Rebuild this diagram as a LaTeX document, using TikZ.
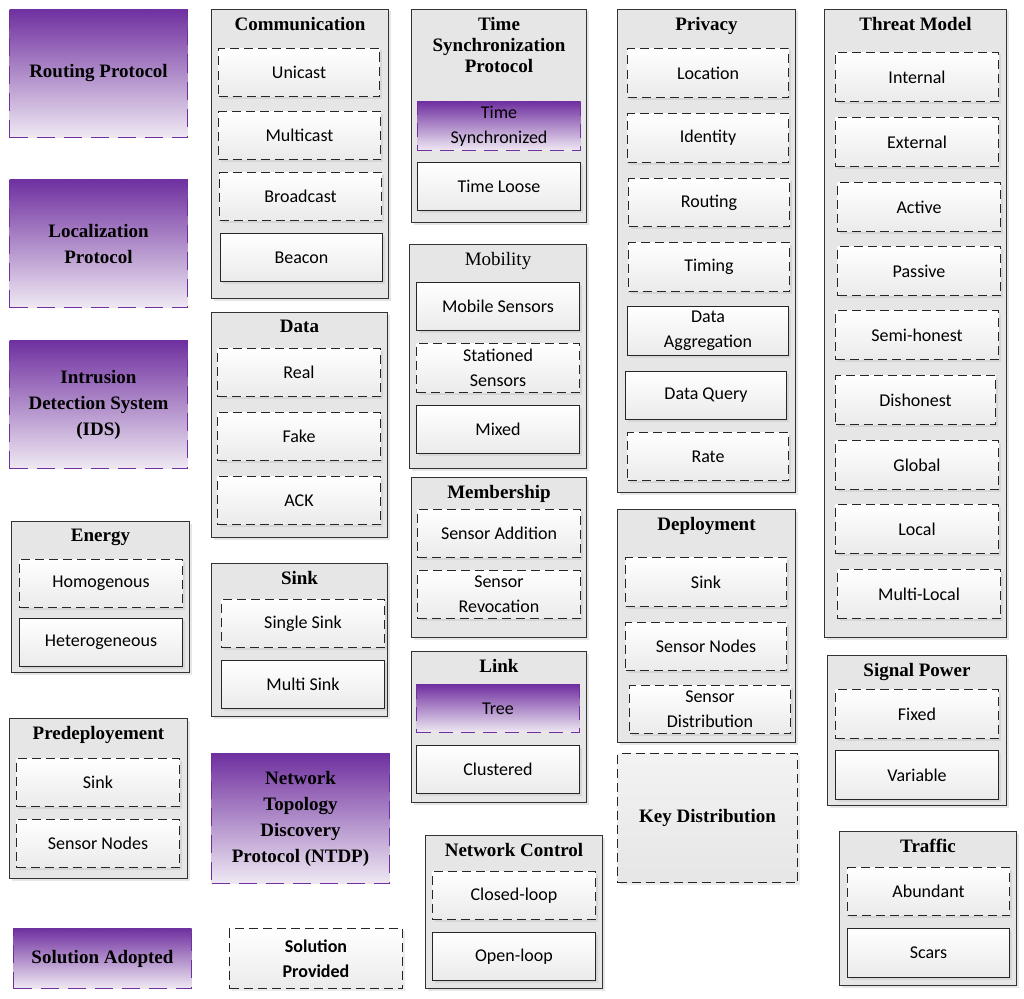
\documentclass[tikz,border=0pt]{standalone}
\usepackage{fontspec}
\setmainfont{Liberation Serif}
\newfontfamily\itemfont{Carlito}
\usetikzlibrary{positioning,shadows}

\definecolor{violetA}{HTML}{7030A0}
\definecolor{violetB}{HTML}{EFE9F3}
\definecolor{grpgray}{HTML}{E6E6E6}

% box from top-left (x1,y1) to bottom-right (x2,y2), pixel units
\newcommand{\bx}[7]{%
  \node[#1, anchor=north west, inner sep=1pt, minimum width={(#5-#3)*1pt},
        minimum height={(#6-#4)*1pt}] (#2) at (#3,#4) {#7};}

\tikzset{
  grp/.style={draw=black!80, line width=1pt, fill=grpgray,
    drop shadow={opacity=0.2, shadow xshift=2pt, shadow yshift=-2pt}},
  ttl/.style={font=\bfseries\fontsize{19}{21}\selectfont, align=center, inner sep=0pt},
  itm/.style={draw=black!85, line width=1pt, top color=white, bottom color=black!8,
    align=center, font=\itemfont\fontsize{18}{25}\selectfont,
    drop shadow={opacity=0.15, shadow xshift=2pt, shadow yshift=-2pt}},
  opt/.style={itm, dashed, dash pattern=on 9pt off 5pt},
  sol/.style={draw=violetA, line width=1pt, dash pattern=on 18pt off 9pt,
    top color=violetA, bottom color=violetB, align=center,
    font=\bfseries\fontsize{19}{26}\selectfont},
}

\begin{document}
\begin{tikzpicture}[x=1pt,y=-1pt]
\useasboundingbox (0,0) rectangle (1024,998);

% solutions adopted
\bx{sol}{route}{9}{9}{187}{137}{Routing Protocol}
\bx{sol}{local}{9}{179}{187}{307}{Localization\\Protocol}
\bx{sol}{ids}{9}{340}{187}{468}{Intrusion\\Detection System\\(IDS)}
\bx{sol}{ntdp}{211}{753}{389}{883}{Network\\Topology\\Discovery\\Protocol (NTDP)}
\bx{sol}{adopt}{13}{928}{191}{988}{Solution Adopted}
\bx{opt, font=\itemfont\bfseries\fontsize{18}{25}\selectfont}{provided}{229}{928}{402}{988}{Solution\\Provided}

% communication
\bx{grp}{comm}{211}{9}{388}{298}{}
\node[ttl, below=8pt of comm.north] (commT) {Communication};
\bx{opt}{uni}{218}{48}{379}{96}{Unicast}
\bx{opt}{multi}{218}{111}{380}{159}{Multicast}
\bx{opt}{broad}{219}{172}{381}{220}{Broadcast}
\bx{itm}{beacon}{220}{233}{382}{281}{Beacon}

% data
\bx{grp}{data}{211}{312}{387}{537}{}
\node[ttl, below=8pt of data.north] (dataT) {Data};
\bx{opt}{real}{217}{348}{380}{396}{Real}
\bx{opt}{fake}{217}{412}{380}{460}{Fake}
\bx{opt}{ack}{217}{476}{380}{524}{ACK}

% energy
\bx{grp}{energy}{11}{521}{189}{672}{}
\node[ttl, below=8pt of energy.north] (energyT) {Energy};
\bx{opt}{homo}{19}{559}{182}{607}{Homogenous}
\bx{itm}{hetero}{19}{618}{182}{666}{Heterogeneous}

% sink
\bx{grp}{sink}{211}{563}{387}{716}{}
\node[ttl, below=8pt of sink.north] (sinkT) {Sink};
\bx{opt}{single}{221}{599}{384}{647}{Single Sink}
\bx{itm}{msink}{221}{660}{384}{708}{Multi Sink}

% predeployement
\bx{grp}{pre}{9}{718}{187}{878}{}
\node[ttl, below=8pt of pre.north] (preT) {Predeployement};
\bx{opt}{presink}{16}{758}{179}{806}{Sink}
\bx{opt}{prenodes}{16}{819}{179}{867}{Sensor Nodes}

% time synchronization
\bx{grp}{time}{411}{9}{586}{222}{}
\node[ttl, below=8pt of time.north] (timeT) {Time\\Synchronization\\Protocol};
\bx{sol, font=\itemfont\fontsize{18}{25}\selectfont, dash pattern=on 14pt off 8pt}{tsync}{417}{101}{580}{150}{Time\\Synchronized}
\bx{itm}{tloose}{417}{162}{580}{210}{Time Loose}

% mobility
\bx{grp}{mob}{409}{244}{586}{468}{}
\node[ttl, font=\fontsize{19}{21}\selectfont, below=8pt of mob.north] (mobT) {Mobility};
\bx{itm}{mobile}{416}{282}{579}{330}{Mobile Sensors}
\bx{opt}{station}{416}{343}{579}{392}{Stationed\\Sensors}
\bx{itm}{mixed}{416}{405}{579}{453}{Mixed}

% membership
\bx{grp}{memb}{411}{477}{586}{637}{}
\node[ttl, below=8pt of memb.north] (membT) {Membership};
\bx{opt}{add}{417}{509}{580}{557}{Sensor Addition}
\bx{opt}{revoke}{417}{570}{580}{618}{Sensor\\Revocation}

% link
\bx{grp}{link}{411}{651}{586}{802}{}
\node[ttl, below=8pt of link.north] (linkT) {Link};
\bx{sol, font=\itemfont\fontsize{18}{25}\selectfont, dash pattern=on 14pt off 8pt}{tree}{416}{684}{579}{732}{Tree}
\bx{itm}{cluster}{416}{745}{579}{793}{Clustered}

% network control
\bx{grp}{ctrl}{425}{835}{602}{988}{}
\node[ttl, below=8pt of ctrl.north] (ctrlT) {Network Control};
\bx{opt}{closed}{432}{871}{595}{919}{Closed-loop}
\bx{itm}{open}{432}{932}{595}{980}{Open-loop}

% privacy
\bx{grp}{priv}{617}{9}{795}{492}{}
\node[ttl, below=8pt of priv.north] (privT) {Privacy};
\bx{opt}{ploc}{627}{48}{788}{97}{Location}
\bx{opt}{pid}{627}{113}{788}{162}{Identity}
\bx{opt}{proute}{628}{178}{789}{226}{Routing}
\bx{opt}{ptime}{628}{242}{789}{291}{Timing}
\bx{itm}{pagg}{627}{306}{788}{355}{Data\\Aggregation}
\bx{itm}{pquery}{625}{371}{786}{419}{Data Query}
\bx{opt}{prate}{627}{432}{788}{480}{Rate}

% deployment
\bx{grp}{depl}{617}{509}{795}{742}{}
\node[ttl, below=8pt of depl.north] (deplT) {Deployment};
\bx{opt}{dsink}{625}{557}{786}{606}{Sink}
\bx{opt}{dnodes}{625}{622}{786}{670}{Sensor Nodes}
\bx{opt}{ddist}{629}{685}{790}{733}{Sensor\\Distribution}

% key distribution
\bx{opt, font=\bfseries\fontsize{19}{21}\selectfont, top color=grpgray!50, bottom color=grpgray}{key}{617}{753}{797}{882}{Key Distribution}

% threat model
\bx{grp}{threat}{824}{9}{1006}{637}{}
\node[ttl, below=8pt of threat.north] (threatT) {Threat Model};
\bx{opt}{tint}{835}{52}{998}{101}{Internal}
\bx{opt}{text}{835}{117}{998}{166}{External}
\bx{opt}{tact}{837}{182}{1000}{231}{Active}
\bx{opt}{tpas}{837}{246}{1000}{295}{Passive}
\bx{opt}{tsemi}{835}{310}{998}{359}{Semi-honest}
\bx{opt}{tdis}{835}{375}{995}{424}{Dishonest}
\bx{opt}{tglob}{835}{440}{998}{489}{Global}
\bx{opt}{tloc}{835}{504}{998}{553}{Local}
\bx{opt}{tmulti}{837}{569}{1000}{618}{Multi-Local}

% signal power
\bx{grp}{signal}{827}{655}{1006}{805}{}
\node[ttl, below=8pt of signal.north] (signalT) {Signal Power};
\bx{opt}{fixed}{835}{689}{998}{738}{Fixed}
\bx{itm}{var}{835}{750}{998}{799}{Variable}

% traffic
\bx{grp}{traffic}{839}{831}{1016}{985}{}
\node[ttl, below=8pt of traffic.north] (trafficT) {Traffic};
\bx{opt}{abund}{847}{867}{1009}{915}{Abundant}
\bx{itm}{scars}{847}{928}{1009}{977}{Scars}
\end{tikzpicture}
\end{document}
